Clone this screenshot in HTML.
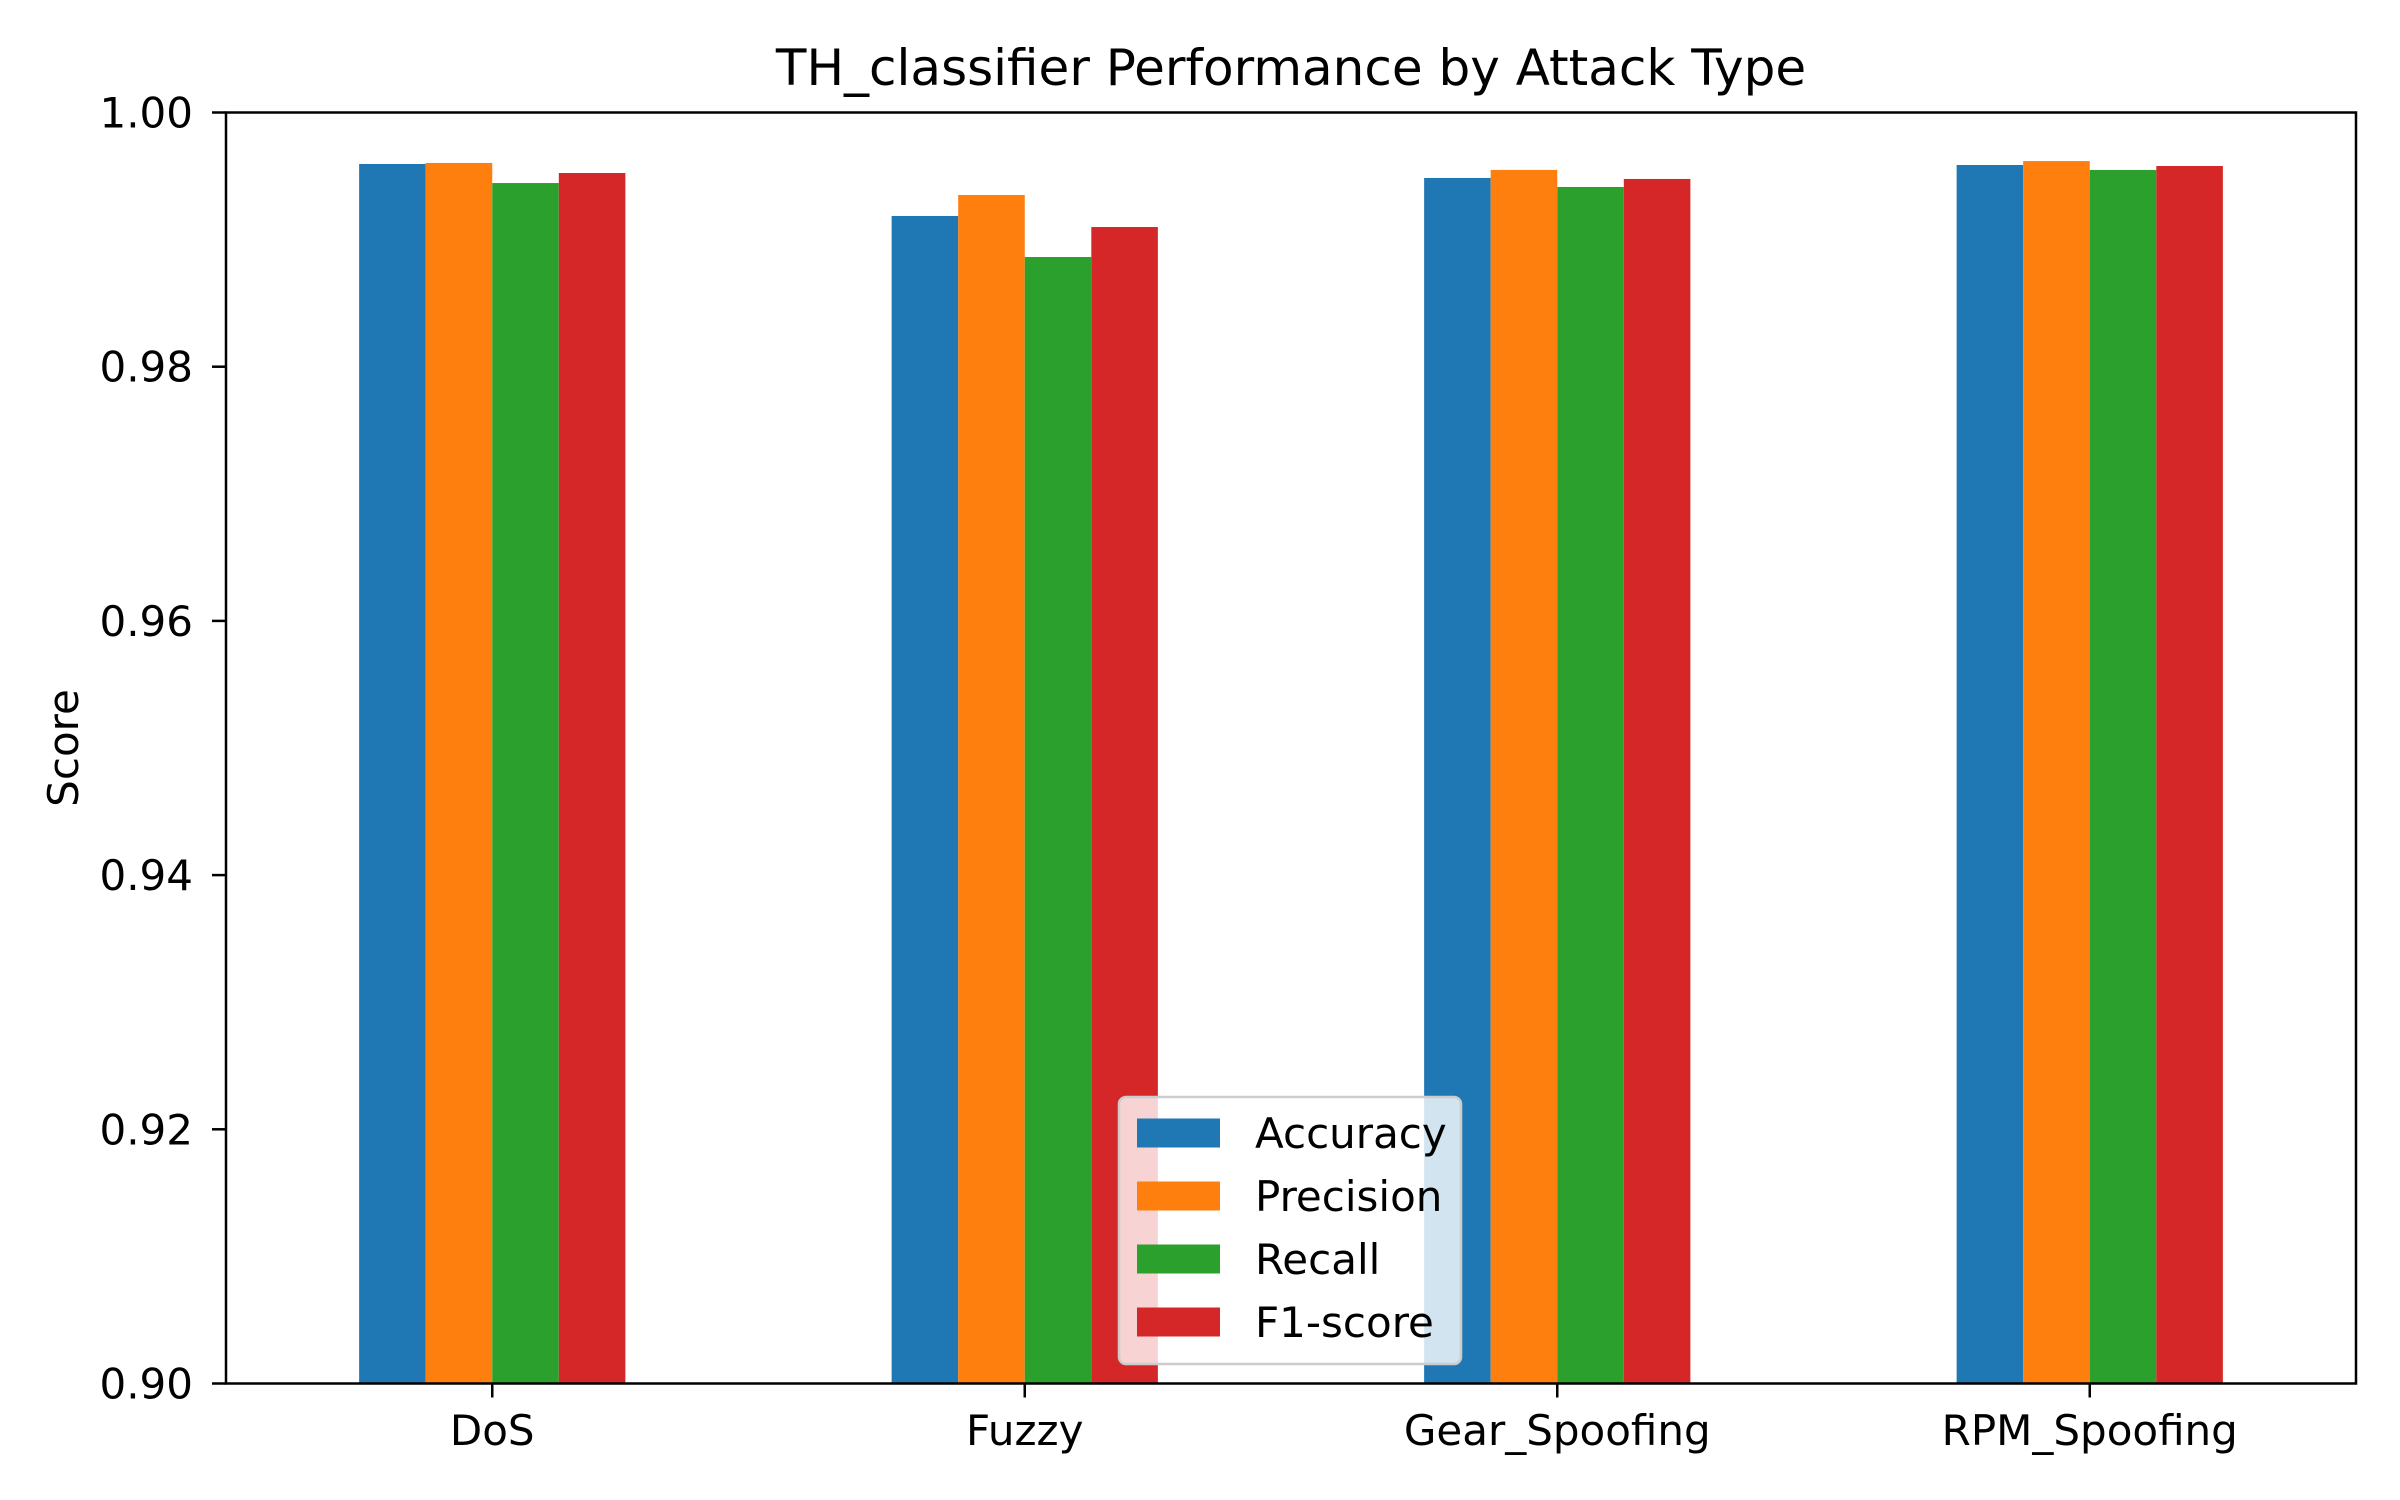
<!DOCTYPE html>
<html><head><meta charset="utf-8"><style>
html,body{margin:0;padding:0;background:#fff;}
svg{display:block;font-family:"DejaVu Sans","Liberation Sans",sans-serif;}
</style></head><body>
<svg id="chart" width="2400" height="1500" viewBox="0 0 2400 1500" xmlns="http://www.w3.org/2000/svg">
<rect width="2400" height="1500" fill="#fff"/>
<text x="1291" y="85" font-size="50" text-anchor="middle">TH_classifier Performance by Attack Type</text>
<text transform="translate(78,748) rotate(-90)" font-size="42" text-anchor="middle">Score</text>
<g id="bars"></g>
<g id="axes"></g>
<g id="legend"></g>
</svg>
<script>
const categories = ["DoS", "Fuzzy", "Gear_Spoofing", "RPM_Spoofing"];
const seriesNames = ["Accuracy", "Precision", "Recall", "F1-score"];
const accuracy = [0.99595, 0.99186, 0.99485, 0.99587];
const precision = [0.99603, 0.99351, 0.99548, 0.99618];
const recall = [0.99445, 0.98863, 0.99414, 0.99548];
const f1score = [0.99524, 0.99099, 0.99477, 0.99579];
const yTicks = [0.90, 0.92, 0.94, 0.96, 0.98, 1.00];
const colors = ["#1f77b4", "#ff7f0e", "#2ca02c", "#d62728"];
const series = [accuracy, precision, recall, f1score];

const L = 226, R = 2356, T = 112.5, B = 1383.5;
const yMin = 0.90, yMax = 1.00;
const xMin = -0.5, xMax = 3.5;
function xs(v){ return L + (v - xMin) / (xMax - xMin) * (R - L); }
function ys(v){ return B - (v - yMin) / (yMax - yMin) * (B - T); }
const NS = "http://www.w3.org/2000/svg";
function mk(tag, attrs, parent){ const e = document.createElementNS(NS, tag); for (const k in attrs) e.setAttribute(k, attrs[k]); parent.appendChild(e); return e; }

const gb = document.getElementById("bars");
const bw = 0.125;
series.forEach((vals, s) => {
  vals.forEach((v, i) => {
    const x0 = xs(i - 0.25 + s * bw), x1 = xs(i - 0.25 + (s + 1) * bw);
    const r = mk("rect", {x: x0, y: ys(v), width: x1 - x0, height: ys(yMin) - ys(v), fill: colors[s]}, gb);
    
    
  });
});

const ga = document.getElementById("axes");
yTicks.forEach(t => {
  const y = ys(t);
  const tk = mk("line", {x1: L - 14, x2: L, y1: y, y2: y, stroke: "#000", "stroke-width": 2.5}, ga);
  
  
  const lb = mk("text", {x: L - 33, y: y + 15, "font-size": 42, "text-anchor": "end"}, ga);
  lb.textContent = t.toFixed(2);
  
  
});
categories.forEach((c, i) => {
  const x = xs(i);
  const tk = mk("line", {x1: x, x2: x, y1: B, y2: B + 14, stroke: "#000", "stroke-width": 2.5}, ga);
  
  
  const lb = mk("text", {x: x, y: 1445, "font-size": 42, "text-anchor": "middle"}, ga);
  lb.textContent = c;
  
  
});
const frame = mk("rect", {x: L, y: T, width: R - L, height: B - T, fill: "none", stroke: "#000", "stroke-width": 2.5}, ga);



const gl = document.getElementById("legend");
const lbox = mk("rect", {x: 1119, y: 1097, width: 342, height: 267, rx: 7, fill: "#fff", "fill-opacity": 0.8, stroke: "#ccc", "stroke-width": 2.5}, gl);


seriesNames.forEach((n, s) => {
  const cy = 1133 + s * 63;
  const p = mk("rect", {x: 1137, y: cy - 14.5, width: 83, height: 29, fill: colors[s]}, gl);
  
  
  const t = mk("text", {x: 1255, y: cy + 15, "font-size": 42}, gl);
  t.textContent = n;
  
  
});
</script>
</body></html>
